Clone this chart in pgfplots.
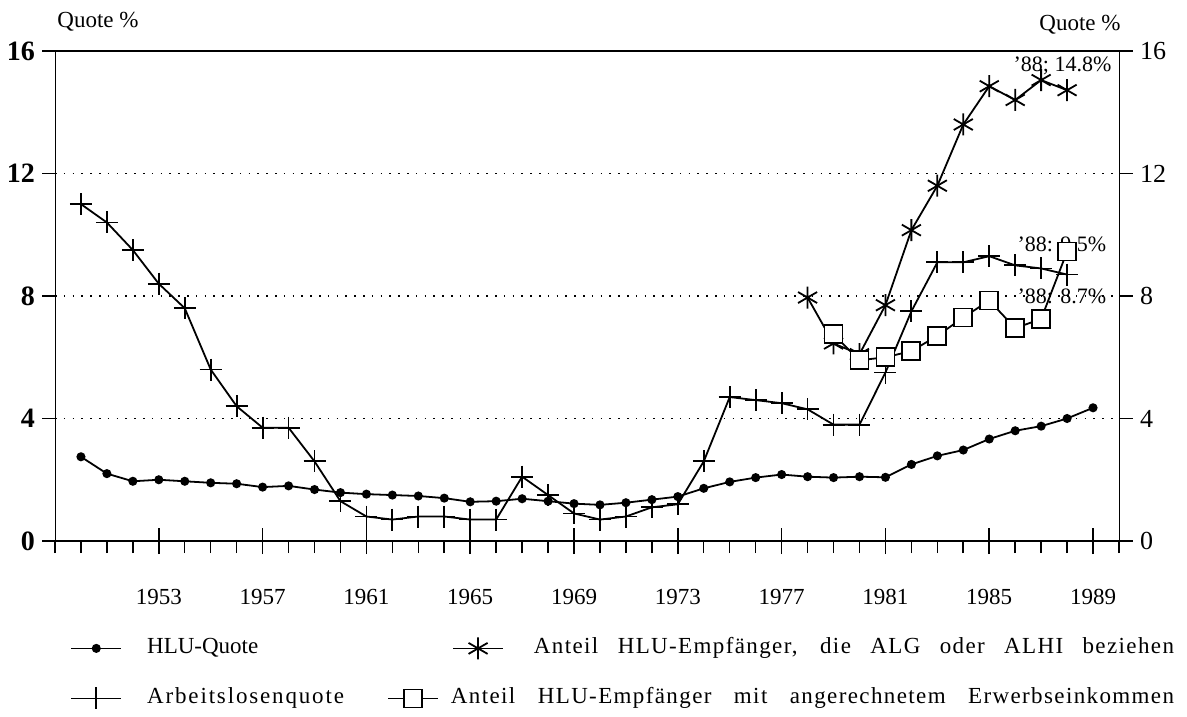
\documentclass[border=0pt]{standalone}
\usepackage{fontspec}
\setmainfont{Liberation Serif}
\newfontfamily\lsfont[LetterSpace=6]{Liberation Serif}
\newfontfamily\lsfontb[LetterSpace=8]{Liberation Serif}
\usepackage{pgfplots}
\pgfplotsset{compat=1.18}
\begin{document}
\begin{tikzpicture}
\begin{axis}[
  scale only axis, width=532bp, height=245bp,
  xmin=1949, xmax=1990, ymin=0, ymax=16,
  font=\fontsize{11.5bp}{13bp}\selectfont,
  /pgf/number format/assume math mode=true,
  separate axis lines,
  x axis line style={line width=1pt},
  y axis line style={line width=0.5pt},
  xtick={1953,1957,...,1989},
  xticklabels={1953,1957,1961,1965,1969,1973,1977,1981,1985,1989},
  minor xtick={1949,...,1990},
  extra x ticks={1953,1957,...,1989},
  extra x tick labels={},
  extra x tick style={xtick align=inside},
  xtick pos=bottom, ytick pos=left,
  xtick align=outside, ytick align=outside,
  major tick length=6.5bp, minor tick length=6bp,
  every tick/.style={black, line width=0.75pt},
  xticklabel style={yshift=-14bp},
  ytick={0,4,8,12,16},
  yticklabels={0,4,8,12,16},
  yticklabel style={font=\fontsize{14bp}{15bp}\selectfont\bfseries},
  ymajorgrids,
  grid style={black, line width=0.7pt, dash pattern=on 0.8bp off 3.6bp},
  legend columns=2,
  legend cell align=left,
  legend style={at={(0,0)}, anchor=north west, xshift=7.5bp, yshift=-48bp,
    draw=none, fill=none, inner sep=0pt, row sep=14bp,
    font=\fontsize{11.5bp}{13bp}\selectfont,
    nodes={inner sep=0pt, text height=8bp, text depth=2.5bp}},
  legend image code/.code={\draw[mark repeat=2,mark phase=2,#1] plot coordinates {(0bp,0bp) (12.5bp,0bp) (25bp,0bp)};},
]
% HLU-Quote
\addplot[black, line width=0.9pt, mark=*, mark size=1.8bp] coordinates {
(1950,2.75) (1951,2.2) (1952,1.95) (1953,2.0) (1954,1.95) (1955,1.9) (1956,1.87)
(1957,1.76) (1958,1.8) (1959,1.68) (1960,1.58) (1961,1.53) (1962,1.5) (1963,1.47)
(1964,1.4) (1965,1.28) (1966,1.3) (1967,1.38) (1968,1.3) (1969,1.22) (1970,1.18)
(1971,1.25) (1972,1.35) (1973,1.45) (1974,1.72) (1975,1.93) (1976,2.07) (1977,2.17)
(1978,2.1) (1979,2.07) (1980,2.1) (1981,2.08) (1982,2.5) (1983,2.78) (1984,2.97)
(1985,3.33) (1986,3.6) (1987,3.75) (1988,4.0) (1989,4.35)};
\addlegendentry{\makebox[132.5bp][l]{\hspace*{12.5bp}HLU-Quote}}
% ALG/ALHI
\addplot[black, line width=0.9pt, mark=asterisk, mark size=5.5bp, legend image post style={xshift=32.5bp}] coordinates {
(1978,7.95) (1979,6.45) (1980,6.1) (1981,7.7) (1982,10.15) (1983,11.6) (1984,13.6)
(1985,14.85) (1986,14.4) (1987,15.05) (1988,14.72)};
\addlegendentry{\makebox[335bp][s]{\lsfont\hspace*{15bp}Anteil HLU-Empfänger, die ALG oder ALHI beziehen}}
% Arbeitslosenquote
\addplot[black, line width=0.9pt, mark=+, mark size=5.5bp] coordinates {
(1950,11.0) (1951,10.4) (1952,9.5) (1953,8.4) (1954,7.6) (1955,5.6) (1956,4.4)
(1957,3.7) (1958,3.7) (1959,2.6) (1960,1.3) (1961,0.8) (1962,0.7) (1963,0.8)
(1964,0.8) (1965,0.7) (1966,0.7) (1967,2.1) (1968,1.5) (1969,0.9) (1970,0.7)
(1971,0.8) (1972,1.1) (1973,1.2) (1974,2.6) (1975,4.7) (1976,4.6) (1977,4.5)
(1978,4.3) (1979,3.8) (1980,3.8) (1981,5.5) (1982,7.5) (1983,9.1) (1984,9.1)
(1985,9.3) (1986,9.0) (1987,8.9) (1988,8.7)};
\addlegendentry{\makebox[132.5bp][l]{\hspace*{12.5bp}{\lsfontb Arbeitslosenquote}}}
% Erwerbseinkommen
\addplot[black, line width=0.9pt, mark=square*, mark size=4.5bp, mark options={fill=white}] coordinates {
(1979,6.75) (1980,5.9) (1981,6.0) (1982,6.2) (1983,6.7) (1984,7.3) (1985,7.85)
(1986,6.95) (1987,7.25) (1988,9.45)};
\addlegendentry{\makebox[335bp][s]{\lsfont\hspace*{-26.5bp}Anteil HLU-Empfänger mit angerechnetem Erwerbseinkommen}}
\node[anchor=east, font=\fontsize{11bp}{12bp}\selectfont, inner sep=1bp] at (axis cs:1989.8,15.5) {'88; 14.8\%};
\node[anchor=east, font=\fontsize{11bp}{12bp}\selectfont, inner sep=1bp] at (axis cs:1989.6,9.7) {'88: 9.5\%};
\node[anchor=east, font=\fontsize{11bp}{12bp}\selectfont, inner sep=1bp] at (axis cs:1989.6,8.0) {'88: 8.7\%};
\end{axis}
\begin{axis}[
  scale only axis, width=532bp, height=245bp,
  xmin=1949, xmax=1990, ymin=0, ymax=16,
  /pgf/number format/assume math mode=true,
  axis x line=none, axis y line*=right,
  y axis line style={line width=0.5pt},
  ytick={0,4,8,12,16},
  yticklabels={0,4,8,12,16},
  ytick align=outside, major tick length=7bp,
  every tick/.style={black, line width=0.75pt},
  yticklabel style={font=\fontsize{13bp}{14bp}\selectfont},
]
\end{axis}
\node[font=\fontsize{11.5bp}{13bp}\selectfont] at (21.5bp,259.5bp) {Quote \%};
\node[font=\fontsize{11.5bp}{13bp}\selectfont] at (512.5bp,258bp) {Quote \%};
\pgfresetboundingbox
\path[use as bounding box] (-27.5bp,-88bp) rectangle (566bp,270.5bp);
\end{tikzpicture}
\end{document}
